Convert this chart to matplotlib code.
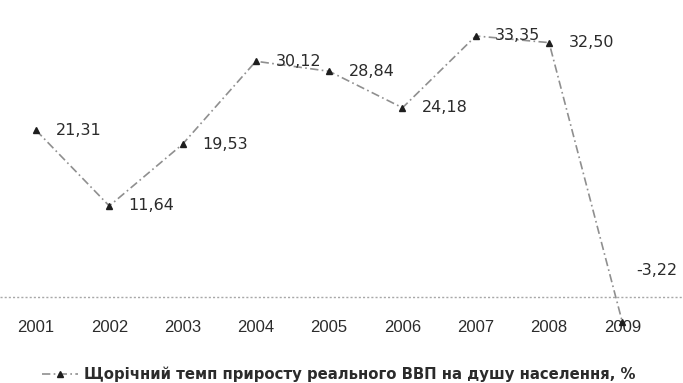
import matplotlib
matplotlib.use('Agg')
import matplotlib.pyplot as plt

# ── дані ─────────────────────────────────────────────
years = [2001, 2002, 2003, 2004, 2005, 2006, 2007, 2008, 2009]
growth = [21.31, 11.64, 19.53, 30.12, 28.84, 24.18, 33.35, 32.50, -3.22]
labels = ['21,31', '11,64', '19,53', '30,12', '28,84', '24,18', '33,35', '32,50', '-3,22']
legend_label = 'Щорічний темп приросту реального ВВП на душу населення, %'

LINE = '#8f8f8f'
MARK = '#1e1e1e'
TEXT = '#2b2b2b'

W, H = 683, 383
fig = plt.figure(figsize=(W / 100, H / 100), dpi=100)
fig.patch.set_facecolor('white')
ax = fig.add_axes([0, 1 - 318 / H, 1, 318 / H])

line, = ax.plot(years, growth, color=LINE, linestyle=(0, (5, 2, 1, 2)), linewidth=1.2,
                marker='^', markersize=5, markerfacecolor=MARK,
                markeredgecolor=MARK, clip_on=False, label=legend_label)

# підписи значень праворуч від маркерів; останній — вище
for x, y, s in zip(years, growth, labels):
    off = (10, 37) if y < 0 else (14, 0)
    ax.annotate(s, (x, y), xytext=off, textcoords='offset points',
                ha='left', va='center', fontsize=11.5, color=TEXT,
                family='DejaVu Sans', annotation_clip=False)

# горизонтальна вісь (нуль)
ax.axhline(0, color='#a8a8a8', linestyle=(0, (1.5, 1.5)), linewidth=1.0)

ax.set_xlim(2000.509, 2009.827)
ax.set_ylim(-(318 - 297.1) / 7.83, 297.1 / 7.83)
ax.set_xticks(years)
ax.set_xticklabels([str(y) for y in years], fontsize=12, color=TEXT,
                   family='Liberation Sans')
ax.tick_params(axis='x', length=0, pad=1.5)
ax.set_yticks([])
for sp in ax.spines.values():
    sp.set_visible(False)

fig.legend(handles=[line], loc='center', bbox_to_anchor=(339 / W, 1 - 374 / H),
           frameon=False, handlelength=2.4, handletextpad=0.4, borderpad=0,
           prop={'family': 'DejaVu Sans', 'size': 10.7, 'weight': 'bold'},
           labelcolor=TEXT)

fig.savefig('out.png', dpi=100)
